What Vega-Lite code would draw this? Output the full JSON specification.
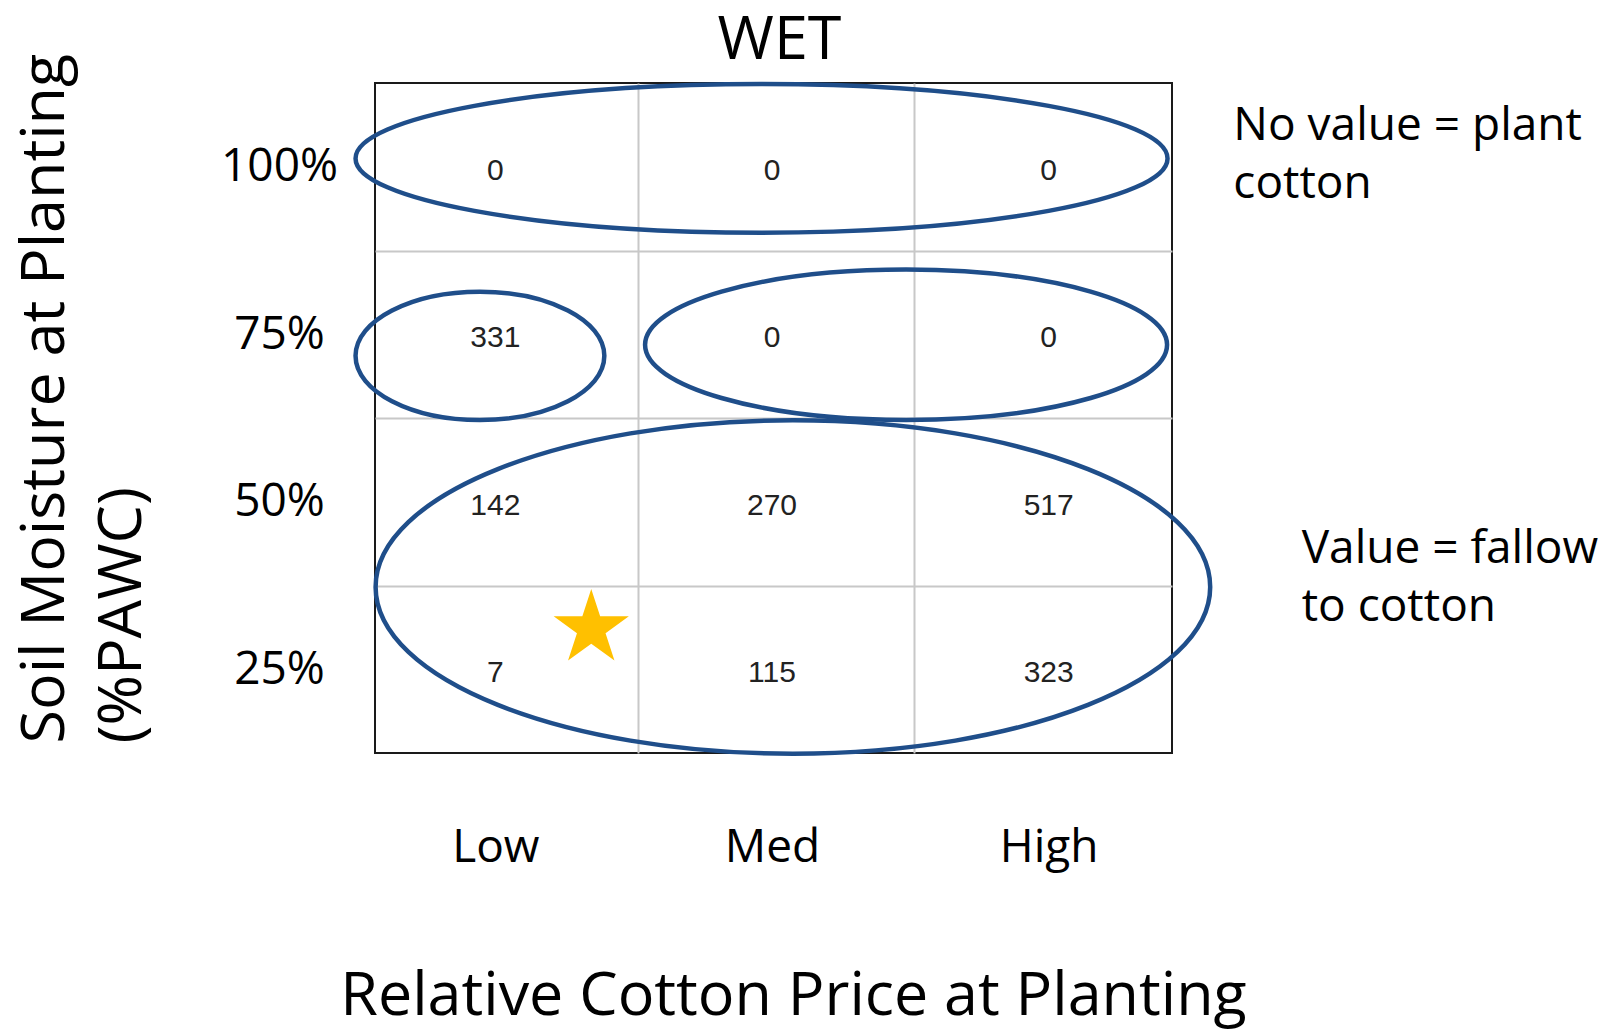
{
  "$schema": "https://vega.github.io/schema/vega-lite/v6.json",
  "width": 797,
  "height": 670,
  "autosize": {"type": "none"},
  "padding": {"left": 375, "top": 83, "right": 446, "bottom": 277},
  "background": "white",
  "config": {"font": "Open Sans", "view": {"stroke": "#1a1a1a", "strokeWidth": 2}},
  "resolve": {"scale": {"x": "independent", "y": "independent"}},
  "layer": [
    {
      "data": {"values": [
        {"price": "Low", "moisture": "100%", "value": 0},
        {"price": "Med", "moisture": "100%", "value": 0},
        {"price": "High", "moisture": "100%", "value": 0},
        {"price": "Low", "moisture": "75%", "value": 331},
        {"price": "Med", "moisture": "75%", "value": 0},
        {"price": "High", "moisture": "75%", "value": 0},
        {"price": "Low", "moisture": "50%", "value": 142},
        {"price": "Med", "moisture": "50%", "value": 270},
        {"price": "High", "moisture": "50%", "value": 517},
        {"price": "Low", "moisture": "25%", "value": 7},
        {"price": "Med", "moisture": "25%", "value": 115},
        {"price": "High", "moisture": "25%", "value": 323}
      ]},
      "mark": {"type": "text", "font": "Liberation Sans", "fontSize": 30, "color": "#222222", "baseline": "middle", "dy": 4},
      "encoding": {
        "x": {"field": "price", "type": "nominal", "scale": {"domain": ["Low", "Med", "High"], "range": [-18, 812]},
          "axis": {"orient": "bottom", "title": "Relative Cotton Price at Planting", "titleFontSize": 61, "titleFontWeight": "normal", "titleColor": "#000000", "titleX": 418, "titleY": 261, "titleBaseline": "alphabetic", "titleAlign": "center",
            "labelFontSize": 46, "labelColor": "#000000", "labelAngle": 0, "labelPadding": 108, "labelBaseline": "alphabetic", "ticks": false, "domain": false, "grid": false}},
        "y": {"field": "moisture", "type": "nominal", "scale": {"domain": ["100%", "75%", "50%", "25%"]},
          "axis": {"orient": "left", "title": ["Soil Moisture at Planting", "(%PAWC)"], "titleFontSize": 61, "titleFontWeight": "normal", "titleColor": "#000000", "titleAngle": 270, "titleAlign": "left", "titleBaseline": "alphabetic", "titleLineHeight": 77, "titleX": -312, "titleY": 660,
            "labelFontSize": 46, "labelColor": "#000000", "labelAlign": "center", "labelPadding": 96, "labelBaseline": "middle", "ticks": false, "domain": false, "grid": false}},
        "text": {"field": "value", "type": "quantitative"}
      }
    },
    {
      "data": {"values": [
        {"group": "plant", "x": 1.455, "y": 3.55},
        {"group": "low75", "x": 0.395, "y": 2.371},
        {"group": "medhigh75", "x": 1.999, "y": 2.437},
        {"group": "fallow", "x": 1.573, "y": 0.991}
      ]},
      "mark": {"type": "point", "filled": false, "size": 4, "strokeWidth": 4.5, "color": "#1F4E8A", "opacity": 1},
      "encoding": {
        "x": {"field": "x", "type": "quantitative", "scale": {"domain": [0, 3], "nice": false, "zero": false},
          "axis": {"orient": "top", "values": [0.99, 2.03], "grid": true, "gridColor": "#c8c8c8", "gridWidth": 2, "labels": false, "ticks": false, "domain": false,
            "title": "WET", "titleFontSize": 61, "titleFontWeight": "normal", "titleColor": "#000000", "titleX": 404, "titleY": -25, "titleBaseline": "alphabetic", "titleAlign": "center"}},
        "y": {"field": "y", "type": "quantitative", "scale": {"domain": [0, 4], "nice": false, "zero": false},
          "axis": {"orient": "right", "values": [1, 2, 3], "grid": true, "gridColor": "#c8c8c8", "gridWidth": 2, "labels": false, "ticks": false, "domain": false, "title": null}},
        "shape": {"field": "group", "type": "nominal", "legend": null,
          "scale": {"domain": ["plant", "low75", "medhigh75", "fallow"],
            "range": [
              "M-406,0C-406,-41 -224.2,-74.3 0,-74.3C224.2,-74.3 406,-41 406,0C406,41 224.2,74.3 0,74.3C-224.2,74.3 -406,41 -406,0Z",
              "M-124.4,0C-124.4,-35.5 -68.7,-64.2 0,-64.2C68.7,-64.2 124.4,-35.5 124.4,0C124.4,35.5 68.7,64.2 0,64.2C-68.7,64.2 -124.4,35.5 -124.4,0Z",
              "M-261,0C-261,-41.5 -144.2,-75.2 0,-75.2C144.2,-75.2 261,-41.5 261,0C261,41.5 144.2,75.2 0,75.2C-144.2,75.2 -261,41.5 -261,0Z",
              "M-417.3,0C-417.3,-92.1 -230.5,-166.7 0,-166.7C230.5,-166.7 417.3,-92.1 417.3,0C417.3,92.1 230.5,166.7 0,166.7C-230.5,166.7 -417.3,92.1 -417.3,0Z"
            ]}}
      }
    },
    {
      "data": {"values": [{"x": 0.814, "y": 0.743}]},
      "mark": {"type": "point", "shape": "M0,-39.5L8.9,-12.2L37.6,-12.2L14.3,4.7L23.2,32L0,15.1L-23.2,32L-14.3,4.7L-37.6,-12.2L-8.9,-12.2Z", "size": 4, "filled": true, "color": "#FFC000", "opacity": 1, "strokeWidth": 0},
      "encoding": {
        "x": {"field": "x", "type": "quantitative", "scale": {"domain": [0, 3], "nice": false, "zero": false}, "axis": null},
        "y": {"field": "y", "type": "quantitative", "scale": {"domain": [0, 4], "nice": false, "zero": false}, "axis": null}
      }
    },
    {
      "data": {"values": [
        {"line": "No value = plant", "x": 3.231, "y": 3.66},
        {"line": "cotton", "x": 3.231, "y": 3.312},
        {"line": "Value = fallow", "x": 3.488, "y": 1.136},
        {"line": "to cotton", "x": 3.488, "y": 0.79}
      ]},
      "mark": {"type": "text", "align": "left", "baseline": "alphabetic", "fontSize": 46, "font": "Open Sans", "color": "#000000"},
      "encoding": {
        "x": {"field": "x", "type": "quantitative", "scale": {"domain": [0, 3], "nice": false, "zero": false}, "axis": null},
        "y": {"field": "y", "type": "quantitative", "scale": {"domain": [0, 4], "nice": false, "zero": false}, "axis": null},
        "text": {"field": "line", "type": "nominal"}
      }
    }
  ]
}
